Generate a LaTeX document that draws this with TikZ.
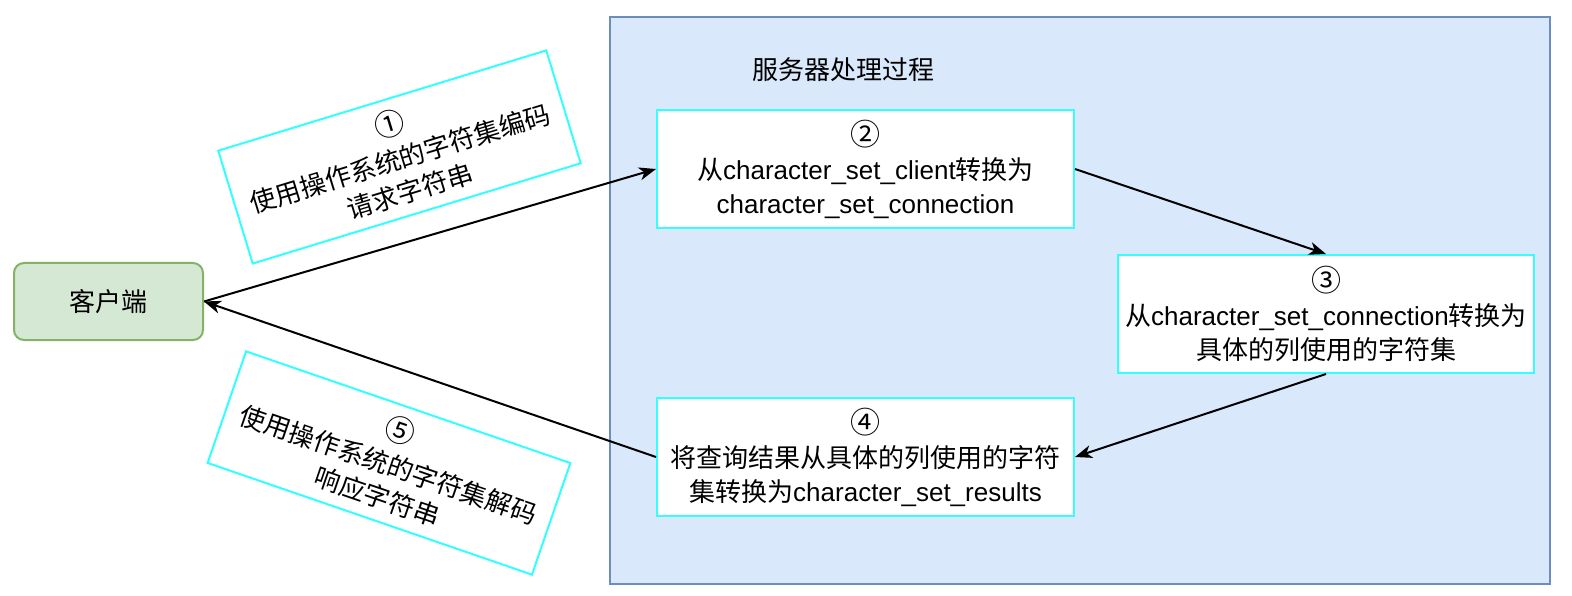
\documentclass[tikz,border=0pt]{standalone}
\usepackage{fontspec}
\setmainfont{Liberation Sans}
\newfontfamily\cjk{Noto Sans CJK SC}
\newcommand{\circnum}[1]{{\cjk\fontsize{30}{34}\selectfont #1}}
\usetikzlibrary{arrows.meta}
\definecolor{cyanline}{RGB}{51,255,255}
\definecolor{grpfill}{RGB}{218,232,252}
\definecolor{grpline}{RGB}{108,142,191}
\definecolor{cltfill}{RGB}{213,232,212}
\definecolor{cltline}{RGB}{130,179,102}
\tikzset{
  txt/.style={font=\fontsize{26}{34}\selectfont, align=center},
  stepbox/.style={txt, draw=cyanline, line width=2pt, fill=white, minimum width=417pt, minimum height=118pt, inner sep=0pt},
  notebox/.style={txt, draw=cyanline, line width=2pt, fill=white, minimum width=343pt, minimum height=118pt, inner sep=0pt},
  conn/.style={line width=2pt, -{Stealth[length=17pt,width=13pt,inset=5pt]}}
}
\begin{document}
\begin{tikzpicture}[x=1pt,y=-1pt]
\useasboundingbox (0,0) rectangle (1572,596);
\node[draw=grpline, fill=grpfill, line width=2pt, minimum width=940pt, minimum height=567pt, inner sep=0pt] (grp) at (1080,300.5) {};
\node[txt, font=\fontsize{26}{34}\selectfont\cjk] (title) at (843,70) {服务器处理过程};
\node[draw=cltline, fill=cltfill, line width=2pt, rounded corners=10pt, minimum width=189pt, minimum height=77pt, inner sep=0pt, txt, font=\fontsize{26}{34}\selectfont\cjk] (client) at (108.5,301.5) {客户端};
\node[stepbox] (s2) at (865.5,169) {\circnum{②}\\{\cjk 从}character\_set\_client{\cjk 转换为}\\character\_set\_connection};
\node[stepbox, minimum width=416pt] (s3) at (1326,314) {\circnum{③}\\{\cjk 从}character\_set\_connection{\cjk 转换为}\\{\cjk 具体的列使用的字符集}};
\node[stepbox] (s4) at (865.5,457) {\circnum{④}\\{\cjk 将查询结果从具体的列使用的字符}\\{\cjk 集转换为}character\_set\_results};
\node[notebox, rotate=17] (n1) at (399.5,157) {\circnum{①}\\{\cjk 使用操作系统的字符集编码}\\{\cjk 请求字符串}};
\node[notebox, rotate=-19] (n5) at (389,463) {\circnum{⑤}\\{\cjk 使用操作系统的字符集解码}\\{\cjk 响应字符串}};
\draw[conn] (client.east) -- (s2.west);
\draw[conn] (s2.east) -- (s3.north);
\draw[conn] (s3.south) -- (s4.east);
\draw[conn] (s4.west) -- (client.east);
\end{tikzpicture}
\end{document}
